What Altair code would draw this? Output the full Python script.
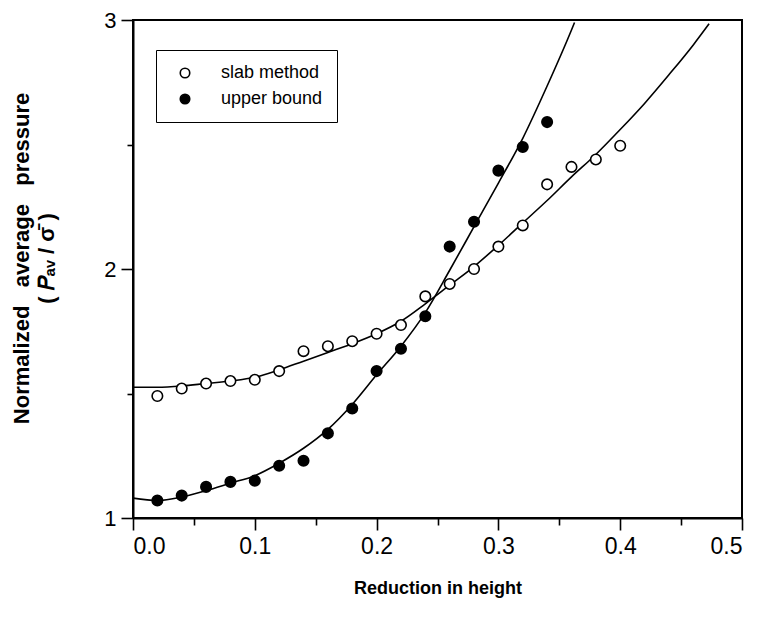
import altair as alt
import pandas as pd

# measured points
slab_x = [0.02, 0.04, 0.06, 0.08, 0.10, 0.12, 0.14, 0.16, 0.18, 0.20,
          0.22, 0.24, 0.26, 0.28, 0.30, 0.32, 0.34, 0.36, 0.38, 0.40]
slab_y = [1.49, 1.52, 1.54, 1.55, 1.555, 1.59, 1.67, 1.69, 1.71, 1.74,
          1.775, 1.89, 1.94, 2.00, 2.09, 2.175, 2.34, 2.41, 2.44, 2.495]

ub_x = [0.02, 0.04, 0.06, 0.08, 0.10, 0.12, 0.14, 0.16, 0.18, 0.20,
        0.22, 0.24, 0.26, 0.28, 0.30, 0.32, 0.34]
ub_y = [1.07, 1.09, 1.125, 1.145, 1.15, 1.21, 1.23, 1.34, 1.44, 1.59,
        1.68, 1.81, 2.09, 2.19, 2.395, 2.49, 2.59]

# fitted curves
slab_fit_x = [0.0, 0.02, 0.04, 0.06, 0.08, 0.10, 0.12, 0.14, 0.16, 0.18, 0.20,
              0.22, 0.24, 0.26, 0.28, 0.30, 0.32, 0.34, 0.36, 0.38, 0.40,
              0.42, 0.44, 0.46, 0.473]
slab_fit_y = [1.525, 1.525, 1.53, 1.54, 1.55, 1.565, 1.595, 1.63, 1.665, 1.70, 1.74,
              1.79, 1.86, 1.935, 2.01, 2.095, 2.185, 2.275, 2.37, 2.46, 2.56,
              2.665, 2.78, 2.90, 2.985]

ub_fit_x = [0.0, 0.02, 0.04, 0.06, 0.08, 0.10, 0.12, 0.14, 0.16, 0.18, 0.20,
            0.22, 0.24, 0.26, 0.28, 0.30, 0.32, 0.34, 0.36, 0.3625]
ub_fit_y = [1.08, 1.07, 1.084, 1.11, 1.14, 1.17, 1.22, 1.28, 1.356, 1.456, 1.575,
            1.69, 1.825, 1.995, 2.17, 2.345, 2.525, 2.735, 2.96, 2.99]

series = ["slab method", "upper bound"]

x_ticks = [0, 0.05, 0.1, 0.15, 0.2, 0.25, 0.3, 0.35, 0.4, 0.45, 0.5]
y_ticks = [1, 1.5, 2, 2.5, 3]

pts = pd.DataFrame(
    {"x": slab_x + ub_x,
     "y": slab_y + ub_y,
     "s": [series[0]] * len(slab_x) + [series[1]] * len(ub_x)}
)
fits = pd.DataFrame(
    {"x": slab_fit_x + ub_fit_x,
     "y": slab_fit_y + ub_fit_y,
     "s": [series[0]] * len(slab_fit_x) + [series[1]] * len(ub_fit_x)}
)

FONT = "Liberation Sans"
X_MAJOR = "abs(datum.value*10 - round(datum.value*10)) < 0.001"
Y_MAJOR = "abs(datum.value - round(datum.value)) < 0.001"
GAP = "\u00a0" * 3

xenc = alt.X(
    "x:Q",
    scale=alt.Scale(domain=[0, 0.5], nice=False, zero=False),
    axis=alt.Axis(
        values=x_ticks,
        labelExpr="(" + X_MAJOR + ") ? format(datum.value, '.1f') : ''",
        title="Reduction in height",
        grid=False,
        tickSize={"condition": {"test": X_MAJOR, "value": 12}, "value": 7},
        labelPadding=5,
        labelFontSize=23,
        titleFontSize=18,
        titlePadding=21,
    ),
)
yenc = alt.Y(
    "y:Q",
    scale=alt.Scale(domain=[1, 3], nice=False, zero=False),
    axis=alt.Axis(
        values=y_ticks,
        labelExpr="(" + Y_MAJOR + ") ? format(datum.value, 'd') : ''",
        title=["Normalized" + GAP + "average" + GAP + "pressure",
               "( \U0001D443\u2090\u1D65 / \u03C3\u0304 )"],
        grid=False,
        tickSize={"condition": {"test": Y_MAJOR, "value": 12}, "value": 6},
        labelPadding=5,
        labelFontSize=22,
        titleFontSize=22,
        titlePadding=45,
        titleY=238,
    ),
)

lines = alt.Chart(fits).mark_line(
    color="black", strokeWidth=1.6, interpolate="monotone", clip=True
).encode(x=xenc, y=yenc, detail="s:N")

points = alt.Chart(pts).mark_point(
    filled=True, stroke="black", strokeWidth=1.6, size=110, shape="circle", opacity=1
).encode(
    x=xenc,
    y=yenc,
    fill=alt.Fill(
        "s:N",
        scale=alt.Scale(domain=series, range=["white", "black"]),
        legend=alt.Legend(
            title=None,
            orient="none",
            legendX=23,
            legendY=30,
            strokeColor="black",
            fillColor="white",
            padding=14,
            symbolSize=90,
            symbolStrokeWidth=1.6,
            symbolStrokeColor="black",
            labelFont=FONT,
            labelFontSize=18,
            labelOffset=27,
            labelExpr="datum.label + '\u00a0\u00a0\u00a0\u00a0'",
            rowPadding=8,
            symbolOffset=6,
        ),
    ),
)

chart = (
    alt.layer(lines, points)
    .properties(
        width=609,
        height=498,
        autosize=alt.AutoSizeParams(type="none"),
        padding={"left": 125, "top": 12, "right": 12, "bottom": 92},
    )
    .configure_view(stroke="black", strokeWidth=2)
    .configure_axis(
        domainColor="black",
        domainWidth=2,
        tickColor="black",
        tickWidth=1.6,
        labelFont=FONT,
        labelColor="black",
        titleFont=FONT,
        titleFontWeight="bold",
        titleColor="black",
        titleLineHeight=25,
    )
)

chart.save("out.html", embed_options={"renderer": "svg", "actions": False})
